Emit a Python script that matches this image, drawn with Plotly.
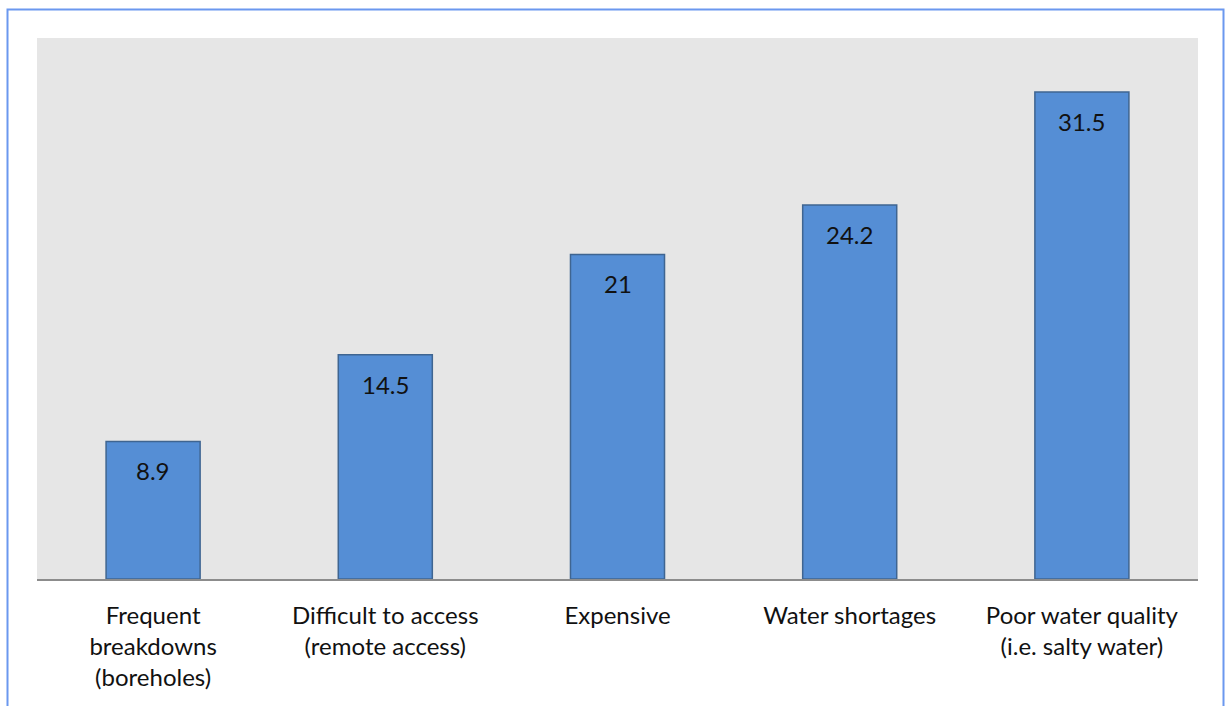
import plotly.graph_objects as go

# Reported problems with water sources (%)
categories = [
    "Frequent<br>breakdowns<br>(boreholes)",
    "Difficult to access<br>(remote access)",
    "Expensive",
    "Water shortages",
    "Poor water quality<br>(i.e. salty water)",
]
values = [8.9, 14.5, 21, 24.2, 31.5]
value_labels = ["8.9", "14.5", "21", "24.2", "31.5"]

FONT = "Lato, 'Open Sans', sans-serif"

fig = go.Figure(
    go.Bar(
        x=categories,
        y=values,
        width=0.405,
        marker=dict(color="#558ed5", line=dict(color="#3f6591", width=1.5)),
        hoverinfo="skip",
    )
)

# value labels just inside the top of each bar
for cat, val, lab in zip(categories, values, value_labels):
    fig.add_annotation(
        x=cat, y=val, text=lab, showarrow=False,
        yanchor="top", yshift=-13,
        font=dict(family=FONT, size=24, color="#111111"),
    )

# outer frame around the chart
fig.add_shape(
    type="rect", xref="paper", yref="paper",
    x0=(7.5 - 37) / 1161, x1=(1223.5 - 37) / 1161,
    y0=-0.5, y1=(579 - 9.5) / 541,
    line=dict(color="#6b98ef", width=2), fillcolor="rgba(0,0,0,0)",
    layer="below",
)

fig.update_layout(
    width=1227, height=706,
    margin=dict(l=37, r=29, t=38, b=127),
    plot_bgcolor="#e6e6e6",
    paper_bgcolor="white",
    showlegend=False,
    bargap=0.595,
    xaxis=dict(
        showline=True, linecolor="#8c8c8c", linewidth=2,
        showgrid=False, ticks="", ticklabelstandoff=14,
        tickfont=dict(family=FONT, size=24, color="#111111"),
        fixedrange=True,
    ),
    yaxis=dict(
        range=[0, 35], visible=False, showgrid=False, fixedrange=True,
    ),
)

fig.write_html("out.html")
